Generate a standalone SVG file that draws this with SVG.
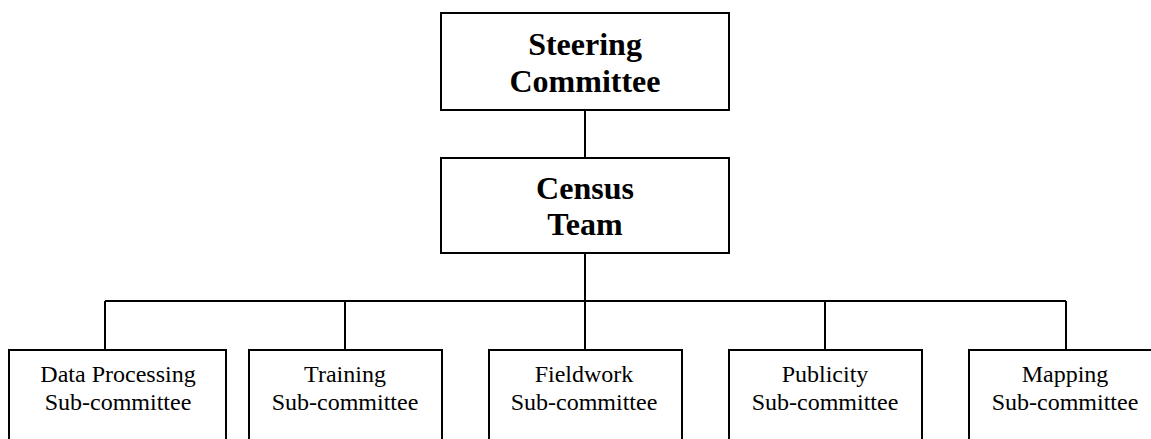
<svg xmlns="http://www.w3.org/2000/svg" width="1151" height="439" viewBox="0 0 1151 439">
<style>
.box{fill:#fff;stroke:#000;stroke-width:2}
.con{fill:none;stroke:#000;stroke-width:2}
.big{font-family:"Liberation Serif","Times New Roman",serif;font-weight:bold;font-size:32px;text-anchor:middle;fill:#000}
.small{font-family:"Liberation Serif","Times New Roman",serif;font-size:24px;text-anchor:middle;fill:#000}
</style>
<rect width="1151" height="439" fill="#fff"/>
<g id="connectors">
<line class="con" x1="585" y1="110" x2="585" y2="158"/>
<line class="con" x1="585" y1="253" x2="585" y2="301"/>
<line class="con" x1="105" y1="301" x2="1066" y2="301"/>
<line class="con" x1="105" y1="301" x2="105" y2="350"/>
<line class="con" x1="345" y1="301" x2="345" y2="350"/>
<line class="con" x1="585" y1="301" x2="585" y2="350"/>
<line class="con" x1="825" y1="301" x2="825" y2="350"/>
<line class="con" x1="1066" y1="301" x2="1066" y2="350"/>
</g>
<g id="steering">
<rect class="box" x="441" y="13" width="288" height="97"/>
<text class="big" x="585" y="55">Steering</text>
<text class="big" x="585" y="92">Committee</text>
</g>
<g id="census">
<rect class="box" x="441" y="158" width="288" height="95"/>
<text class="big" x="585" y="199">Census</text>
<text class="big" x="585" y="235">Team</text>
</g>
<g id="dataprocessing">
<rect class="box" x="9" y="350" width="217" height="100"/>
<text class="small" x="118" y="382">Data Processing</text>
<text class="small" x="118" y="410">Sub-committee</text>
</g>
<g id="training">
<rect class="box" x="249" y="350" width="193" height="100"/>
<text class="small" x="345" y="382">Training</text>
<text class="small" x="345" y="410">Sub-committee</text>
</g>
<g id="fieldwork">
<rect class="box" x="489" y="350" width="193" height="100"/>
<text class="small" x="584" y="382">Fieldwork</text>
<text class="small" x="584" y="410">Sub-committee</text>
</g>
<g id="publicity">
<rect class="box" x="729" y="350" width="193" height="100"/>
<text class="small" x="825" y="382">Publicity</text>
<text class="small" x="825" y="410">Sub-committee</text>
</g>
<g id="mapping">
<rect class="box" x="969" y="350" width="193" height="100"/>
<text class="small" x="1065" y="382">Mapping</text>
<text class="small" x="1065" y="410">Sub-committee</text>
</g>
</svg>
